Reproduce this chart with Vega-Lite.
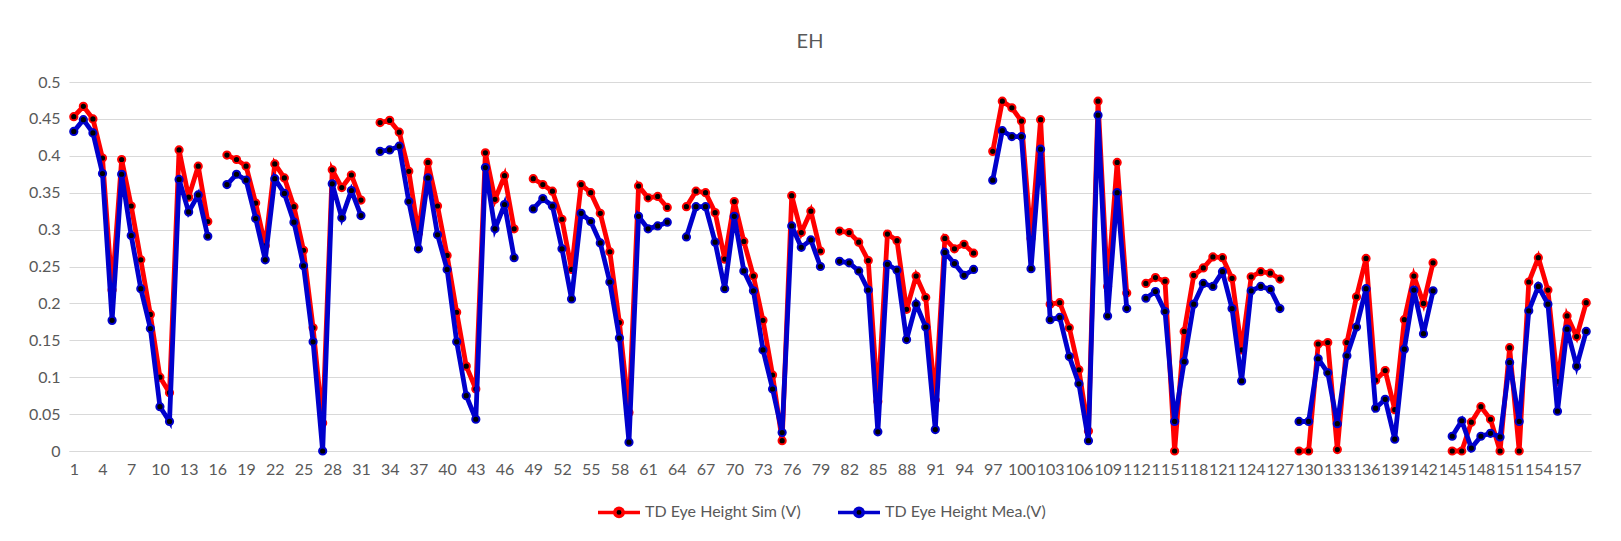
{
"$schema": "https://vega.github.io/schema/vega-lite/v6.json",
"width": 1522, "height": 369,
"autosize": {"type": "none"},
"padding": {"left": 69, "top": 82, "right": 30, "bottom": 90},
"background": "white",
"title": {"text": "EH", "font": "Lato", "fontSize": 20, "fontWeight": "normal", "color": "#595959", "anchor": "middle", "offset": 33, "baseline": "alphabetic", "dx": -20, "dy": 27},
"config": {"view": {"stroke": null}, "font": "Lato"},
"data": {"values": [
{"n":1,"sim":0.453,"mea":0.433},{"n":2,"sim":0.467,"mea":0.449},{"n":3,"sim":0.450,"mea":0.431},{"n":4,"sim":0.397,"mea":0.376},{"n":5,"sim":0.218,"mea":0.177},{"n":6,"sim":0.395,"mea":0.375},{"n":7,"sim":0.332,"mea":0.292},{"n":8,"sim":0.259,"mea":0.220},{"n":9,"sim":0.185,"mea":0.166},{"n":10,"sim":0.100,"mea":0.060},
{"n":11,"sim":0.079,"mea":0.040},{"n":12,"sim":0.408,"mea":0.368},{"n":13,"sim":0.344,"mea":0.324},{"n":14,"sim":0.386,"mea":0.347},{"n":15,"sim":0.311,"mea":0.291},{"n":16,"sim":null,"mea":null},{"n":17,"sim":0.401,"mea":0.361},{"n":18,"sim":0.395,"mea":0.375},{"n":19,"sim":0.386,"mea":0.367},{"n":20,"sim":0.336,"mea":0.315},
{"n":21,"sim":0.278,"mea":0.259},{"n":22,"sim":0.389,"mea":0.369},{"n":23,"sim":0.370,"mea":0.349},{"n":24,"sim":0.331,"mea":0.310},{"n":25,"sim":0.272,"mea":0.251},{"n":26,"sim":0.167,"mea":0.148},{"n":27,"sim":0.038,"mea":0.000},{"n":28,"sim":0.381,"mea":0.362},{"n":29,"sim":0.357,"mea":0.316},{"n":30,"sim":0.374,"mea":0.353},
{"n":31,"sim":0.340,"mea":0.319},{"n":32,"sim":null,"mea":null},{"n":33,"sim":0.445,"mea":0.406},{"n":34,"sim":0.448,"mea":0.408},{"n":35,"sim":0.432,"mea":0.413},{"n":36,"sim":0.379,"mea":0.338},{"n":37,"sim":0.295,"mea":0.274},{"n":38,"sim":0.391,"mea":0.370},{"n":39,"sim":0.332,"mea":0.293},{"n":40,"sim":0.265,"mea":0.246},
{"n":41,"sim":0.188,"mea":0.148},{"n":42,"sim":0.115,"mea":0.075},{"n":43,"sim":0.084,"mea":0.043},{"n":44,"sim":0.404,"mea":0.384},{"n":45,"sim":0.341,"mea":0.301},{"n":46,"sim":0.373,"mea":0.334},{"n":47,"sim":0.301,"mea":0.262},{"n":48,"sim":null,"mea":null},{"n":49,"sim":0.369,"mea":0.328},{"n":50,"sim":0.361,"mea":0.342},
{"n":51,"sim":0.352,"mea":0.332},{"n":52,"sim":0.314,"mea":0.274},{"n":53,"sim":0.246,"mea":0.206},{"n":54,"sim":0.361,"mea":0.322},{"n":55,"sim":0.350,"mea":0.311},{"n":56,"sim":0.322,"mea":0.282},{"n":57,"sim":0.270,"mea":0.229},{"n":58,"sim":0.174,"mea":0.153},{"n":59,"sim":0.052,"mea":0.012},{"n":60,"sim":0.359,"mea":0.318},
{"n":61,"sim":0.343,"mea":0.301},{"n":62,"sim":0.345,"mea":0.305},{"n":63,"sim":0.330,"mea":0.310},{"n":64,"sim":null,"mea":null},{"n":65,"sim":0.331,"mea":0.290},{"n":66,"sim":0.352,"mea":0.331},{"n":67,"sim":0.350,"mea":0.331},{"n":68,"sim":0.323,"mea":0.283},{"n":69,"sim":0.260,"mea":0.220},{"n":70,"sim":0.338,"mea":0.318},
{"n":71,"sim":0.284,"mea":0.244},{"n":72,"sim":0.237,"mea":0.217},{"n":73,"sim":0.177,"mea":0.137},{"n":74,"sim":0.103,"mea":0.084},{"n":75,"sim":0.014,"mea":0.025},{"n":76,"sim":0.346,"mea":0.305},{"n":77,"sim":0.296,"mea":0.276},{"n":78,"sim":0.325,"mea":0.286},{"n":79,"sim":0.271,"mea":0.250},{"n":80,"sim":null,"mea":null},
{"n":81,"sim":0.298,"mea":0.257},{"n":82,"sim":0.296,"mea":0.255},{"n":83,"sim":0.283,"mea":0.244},{"n":84,"sim":0.258,"mea":0.218},{"n":85,"sim":0.067,"mea":0.026},{"n":86,"sim":0.294,"mea":0.253},{"n":87,"sim":0.285,"mea":0.245},{"n":88,"sim":0.192,"mea":0.151},{"n":89,"sim":0.237,"mea":0.199},{"n":90,"sim":0.208,"mea":0.168},
{"n":91,"sim":0.069,"mea":0.029},{"n":92,"sim":0.288,"mea":0.269},{"n":93,"sim":0.274,"mea":0.254},{"n":94,"sim":0.280,"mea":0.238},{"n":95,"sim":0.268,"mea":0.246},{"n":96,"sim":null,"mea":null},{"n":97,"sim":0.406,"mea":0.367},{"n":98,"sim":0.474,"mea":0.434},{"n":99,"sim":0.465,"mea":0.426},{"n":100,"sim":0.447,"mea":0.426},
{"n":101,"sim":0.288,"mea":0.247},{"n":102,"sim":0.449,"mea":0.409},{"n":103,"sim":0.199,"mea":0.178},{"n":104,"sim":0.201,"mea":0.181},{"n":105,"sim":0.167,"mea":0.128},{"n":106,"sim":0.110,"mea":0.091},{"n":107,"sim":0.027,"mea":0.014},{"n":108,"sim":0.474,"mea":0.455},{"n":109,"sim":0.223,"mea":0.183},{"n":110,"sim":0.391,"mea":0.350},
{"n":111,"sim":0.214,"mea":0.193},{"n":112,"sim":null,"mea":null},{"n":113,"sim":0.227,"mea":0.207},{"n":114,"sim":0.235,"mea":0.216},{"n":115,"sim":0.230,"mea":0.189},{"n":116,"sim":0.000,"mea":0.040},{"n":117,"sim":0.162,"mea":0.121},{"n":118,"sim":0.238,"mea":0.199},{"n":119,"sim":0.248,"mea":0.227},{"n":120,"sim":0.263,"mea":0.223},
{"n":121,"sim":0.262,"mea":0.243},{"n":122,"sim":0.234,"mea":0.193},{"n":123,"sim":0.137,"mea":0.095},{"n":124,"sim":0.236,"mea":0.217},{"n":125,"sim":0.243,"mea":0.223},{"n":126,"sim":0.241,"mea":0.219},{"n":127,"sim":0.233,"mea":0.193},{"n":128,"sim":null,"mea":null},{"n":129,"sim":0.000,"mea":0.040},{"n":130,"sim":0.000,"mea":0.040},
{"n":131,"sim":0.145,"mea":0.125},{"n":132,"sim":0.147,"mea":0.106},{"n":133,"sim":0.002,"mea":0.037},{"n":134,"sim":0.147,"mea":0.129},{"n":135,"sim":0.209,"mea":0.168},{"n":136,"sim":0.261,"mea":0.220},{"n":137,"sim":0.096,"mea":0.058},{"n":138,"sim":0.109,"mea":0.070},{"n":139,"sim":0.056,"mea":0.016},{"n":140,"sim":0.178,"mea":0.138},
{"n":141,"sim":0.237,"mea":0.218},{"n":142,"sim":0.200,"mea":0.159},{"n":143,"sim":0.255,"mea":0.217},{"n":144,"sim":null,"mea":null},{"n":145,"sim":0.000,"mea":0.020},{"n":146,"sim":0.000,"mea":0.041},{"n":147,"sim":0.039,"mea":0.004},{"n":148,"sim":0.060,"mea":0.020},{"n":149,"sim":0.043,"mea":0.024},{"n":150,"sim":0.000,"mea":0.019},
{"n":151,"sim":0.140,"mea":0.120},{"n":152,"sim":0.000,"mea":0.040},{"n":153,"sim":0.229,"mea":0.190},{"n":154,"sim":0.262,"mea":0.223},{"n":155,"sim":0.218,"mea":0.199},{"n":156,"sim":0.094,"mea":0.054},{"n":157,"sim":0.183,"mea":0.165},{"n":158,"sim":0.155,"mea":0.115},{"n":159,"sim":0.201,"mea":0.162}
]},
"encoding": {
  "x": {"field": "n", "type": "quantitative", "scale": {"domain": [0.5, 159.5], "nice": false, "zero": false},
    "axis": {"title": null, "values": [1,4,7,10,13,16,19,22,25,28,31,34,37,40,43,46,49,52,55,58,61,64,67,70,73,76,79,82,85,88,91,94,97,100,103,106,109,112,115,118,121,124,127,130,133,136,139,142,145,148,151,154,157],
      "grid": false, "ticks": false, "domain": true, "domainColor": "#D9D9D9", "domainWidth": 1,
      "labelFont": "Lato", "labelFontSize": 16, "labelColor": "#595959", "labelPadding": 10,
      "labelOverlap": false, "labelFlush": false, "labelBound": false}}
},
"layer": [
  {"mark": {"type": "line", "strokeWidth": 4.8, "invalid": "break-paths-show-domains"},
   "encoding": {
     "y": {"field": "sim", "type": "quantitative", "scale": {"domain": [0, 0.5], "nice": false},
       "axis": {"title": null, "tickCount": 10, "format": ".2~f", "grid": true, "gridColor": "#D9D9D9", "gridWidth": 1, "domain": false, "ticks": false, "labelPadding": 9, "labelFont": "Lato", "labelFontSize": 16, "labelColor": "#595959"}},
     "color": {"datum": "TD Eye Height Sim (V)", "type": "nominal",
       "scale": {"domain": ["TD Eye Height Sim (V)", "TD Eye Height Mea.(V)"], "range": ["#FF0000", "#0000CC"]},
       "legend": {"title": null, "orient": "none", "legendX": 527, "legendY": 407, "direction": "horizontal",
         "symbolType": "M-1,0L-0.2,0M0.2,0L1,0M-0.2,0A0.2,0.2,0,1,1,0.2,0A0.2,0.2,0,1,1,-0.2,0Z",
         "symbolSize": 1764, "symbolStrokeWidth": 3.5, "symbolFillColor": "black", "labelLimit": 400,
         "labelFont": "Lato", "labelFontSize": 16, "labelColor": "#595959", "labelOffset": 3, "columnPadding": 30,
         "encode": {"symbols": {"update": {"fill": {"value": "black"}}}}}}
   }},
  {"mark": {"type": "point", "filled": true, "fill": "black", "stroke": "#FF0000", "strokeWidth": 2, "size": 52, "opacity": 1},
   "encoding": {"y": {"field": "sim", "type": "quantitative",
       "axis": {"title": null, "tickCount": 10, "format": ".2~f", "grid": true, "gridColor": "#D9D9D9", "gridWidth": 1, "domain": false, "ticks": false, "labelPadding": 9, "labelFont": "Lato", "labelFontSize": 16, "labelColor": "#595959"}}}},
  {"mark": {"type": "line", "strokeWidth": 4.8, "invalid": "break-paths-show-domains"},
   "encoding": {
     "y": {"field": "mea", "type": "quantitative",
       "axis": {"title": null, "tickCount": 10, "format": ".2~f", "grid": true, "gridColor": "#D9D9D9", "gridWidth": 1, "domain": false, "ticks": false, "labelPadding": 9, "labelFont": "Lato", "labelFontSize": 16, "labelColor": "#595959"}},
     "color": {"datum": "TD Eye Height Mea.(V)", "type": "nominal"}
   }},
  {"mark": {"type": "point", "filled": true, "fill": "black", "stroke": "#0000CC", "strokeWidth": 2, "size": 52, "opacity": 1},
   "encoding": {"y": {"field": "mea", "type": "quantitative",
       "axis": {"title": null, "tickCount": 10, "format": ".2~f", "grid": true, "gridColor": "#D9D9D9", "gridWidth": 1, "domain": false, "ticks": false, "labelPadding": 9, "labelFont": "Lato", "labelFontSize": 16, "labelColor": "#595959"}}}}
]
}
